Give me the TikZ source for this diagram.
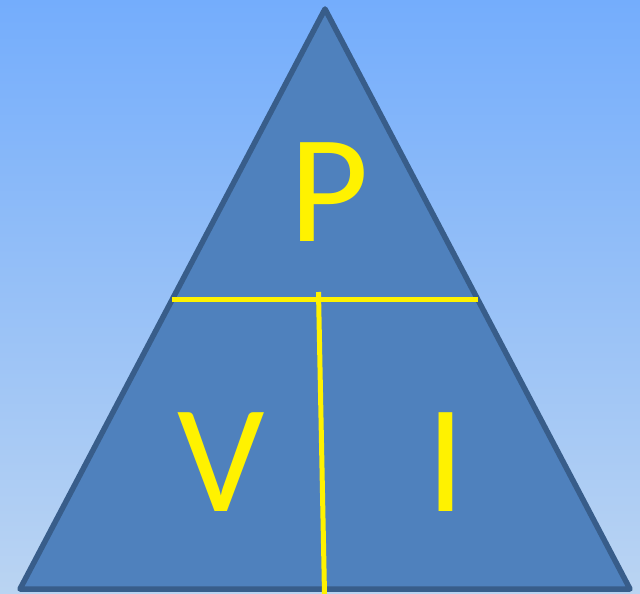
\documentclass[tikz,border=0pt]{standalone}
\usepackage{fontspec}
\setmainfont{Carlito}
\usetikzlibrary{positioning,calc}
\definecolor{skytop}{HTML}{74ADFC}
\definecolor{skybot}{HTML}{BAD4F2}
\definecolor{trifill}{HTML}{4F81BD}
\definecolor{triline}{HTML}{385D8A}
\tikzset{
  letter/.style={anchor=base, inner sep=0pt, text=yellow, font=\fontsize{154}{154}\selectfont},
  divider/.style={draw=yellow, line width=5pt}
}
\begin{document}
\begin{tikzpicture}[x=1pt, y=-1pt]
  % ------------------------------------------------------------ background
  \useasboundingbox (0,0) rectangle (640,594);
  \shade[top color=skytop, bottom color=skybot] (0,0) rectangle (640,594);
  % ------------------------------------------------------------ triangle
  \coordinate (apex) at (325,9);
  \coordinate (bl) at (20,589);
  \coordinate (br) at (630,589);
  \draw[fill=trifill, draw=triline, line width=5.5pt, line join=round] (apex) -- (bl) -- (br) -- cycle;
  % ------------------------------------------------------------ dividers
  \coordinate (hl) at (172,299); \coordinate (hr) at (478,299);
  \coordinate (vt) at (318.5,292); \coordinate (vb) at (324.5,594);
  \draw[divider] (hl) -- (hr);
  \draw[divider] (vt) -- (vb);
  % ------------------------------------------------------------ letters
  \node[letter] (p) at (329,241) {P};
  \node[letter] (v) at (221,511) {V};
  \node[letter] (i) at (446,511) {I};
\end{tikzpicture}
\end{document}
